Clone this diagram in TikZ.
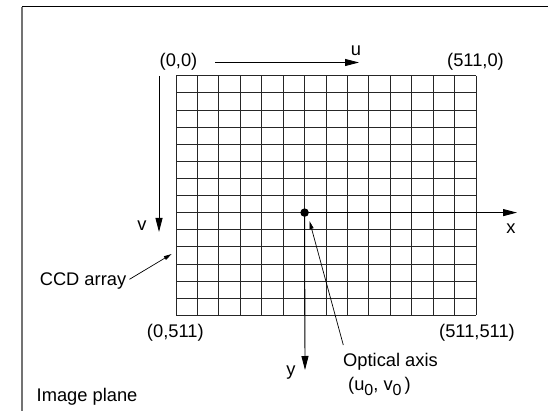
\documentclass[tikz,border=0pt]{standalone}
\usepackage{fontspec}
\setmainfont{Liberation Sans}
\usetikzlibrary{arrows.meta}
\begin{document}
\begin{tikzpicture}[x=1pt,y=-1pt,
  lbl/.style={inner sep=0pt,font=\fontsize{18.3}{20}\selectfont},
  gridline/.style={draw=black!85,line width=0.8pt},
  axisarrow/.style={draw=black,line width=0.9pt,-{Triangle[length=14pt,width=7pt]}},
  thinarrow/.style={draw=black,line width=0.7pt,-{Triangle[length=8pt,width=4pt]}},
  dotnode/.style={circle,fill=black,inner sep=0pt,minimum size=8.5pt}]
\useasboundingbox (0,0) rectangle (548,411);
% frame
\draw[black!55,line width=1.2pt] (22,6.7) -- (22,411);
\draw[black,line width=1pt] (22,6.7) -- (548,6.7);
% CCD grid 14 x 14
\foreach \i in {0,...,14} {
  \draw[gridline] ({176+\i*300/14},75.7) -- ({176+\i*300/14},315.3);
  \draw[gridline] (176,{75.7+\i*239.6/14}) -- (476,{75.7+\i*239.6/14});
}
% coordinates
\coordinate (uS) at (215,62.5);
\coordinate (uE) at (359,62.5);
\coordinate (vS) at (159,76);
\coordinate (vE) at (159,232);
\coordinate (xE) at (517,212.6);
\coordinate (yE) at (305,370);
\coordinate (ccdTip) at (171.7,254);
\coordinate (ccdTail) at (129.5,279.3);
\coordinate (optTail) at (343.3,345);
\coordinate (optTip) at (309.5,221);
% optical axis point
\node[dotnode] (dot) at (304.6,212.6) {};
% axes
\draw[axisarrow] (dot.center) -- (xE);
\draw[axisarrow] (dot.center) -- (yE);
\draw[axisarrow] (uS) -- (uE);
\draw[axisarrow] (vS) -- (vE);
\draw[thinarrow] (ccdTail) -- (ccdTip);
\draw[thinarrow] (optTail) -- (optTip);
% labels
\node[lbl] (l00) at (178.5,62) {(0,0)};
\node[lbl] (lu) at (356,51) {u};
\node[lbl] (l5110) at (475.5,62) {(511,0)};
\node[lbl] (lv) at (142,226) {v};
\node[lbl] (lx) at (511,229) {x};
\node[lbl] (lccd) at (83,281.5) {CCD array};
\node[lbl] (l0511) at (175.3,333) {(0,511)};
\node[lbl] (l511511) at (477,333) {(511,511)};
\node[lbl] (ly) at (291,373) {y};
\node[lbl,anchor=west] (lopt) at (343,361.7) {Optical axis};
\node[lbl,anchor=west] (luv) at (348,386) {(u\raisebox{-5pt}{\fontsize{16}{16}\selectfont 0}, v\raisebox{-5pt}{\fontsize{16}{16}\selectfont 0}\,)};
\node[lbl,anchor=west] (limg) at (36.5,396.7) {Image plane};
\end{tikzpicture}
\end{document}
